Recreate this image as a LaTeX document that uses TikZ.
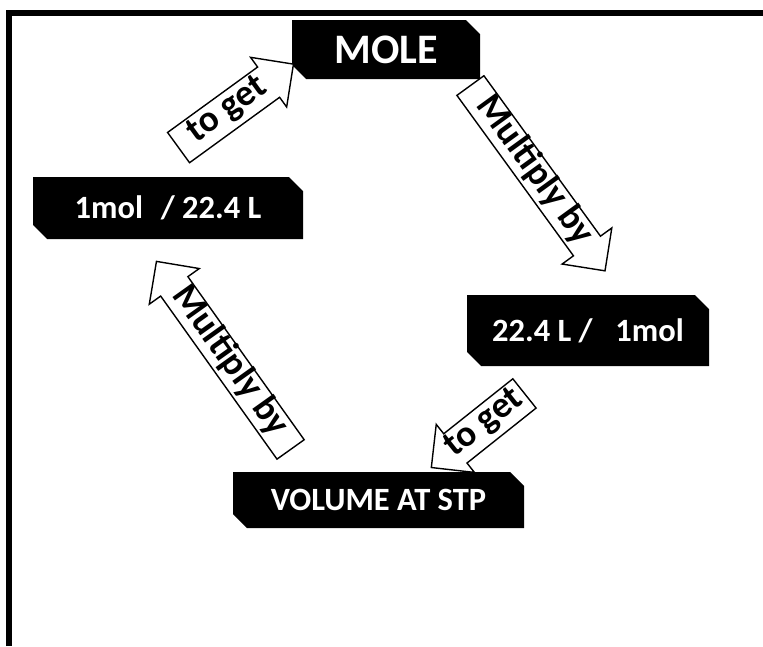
\documentclass[tikz,border=0pt]{standalone}
\usepackage{fontspec}
\setmainfont{Carlito}
\usetikzlibrary{shapes.misc,shapes.arrows,positioning}

\tikzset{
  box/.style={chamfered rectangle, chamfered rectangle corners={north east,south west},
    chamfered rectangle xsep=11pt, chamfered rectangle angle=45, fill=black, text=white,
    inner sep=0pt, font=\bfseries\fontsize{32.5}{34}\selectfont},
  arrowbox/.style={single arrow, draw=black, fill=white, line width=1.4pt, anchor=tail,
    single arrow head indent=0pt, minimum width=0pt, inner xsep=2pt,
    font=\bfseries\fontsize{37}{39}\selectfont},
  getarrow/.style={arrowbox, text height=24pt, text depth=10pt, inner ysep=1pt, single arrow head extend=12pt},
  multarrow/.style={arrowbox, text height=23pt, text depth=8pt, inner ysep=0.5pt, single arrow head extend=14pt}
}

\begin{document}
\begin{tikzpicture}[x=1pt, y=-1pt]
\useasboundingbox (0,0) rectangle (763,646);

  % frame
\draw[line width=6pt] (9,646) -- (9,13) -- (763,13);

  % the four boxes
\node[box, minimum width=188pt, minimum height=59pt, font=\bfseries\fontsize{42}{44}\selectfont] (mole) at (386,49.5) {MOLE}; \node[box, minimum width=270pt, minimum height=62pt] (perL) at (168,208) {1mol\hspace{0.55em}/ 22.4 L}; \node[box, minimum width=242pt, minimum height=71pt] (perMol) at (588,330.5) {22.4 L /\hspace{0.7em}1mol}; \node[box, minimum width=291pt, minimum height=56pt] (vol) at (378.5,500) {VOLUME AT STP};

  % block arrows between the boxes
\node[getarrow, rotate=36, minimum height=142pt] (get1) at (178,148) {to get}; \node[multarrow, rotate=-54, minimum height=229pt] (mult1) at (470,85) {Multiply by}; \node[getarrow, rotate=38.5, shape border rotate=180, minimum height=119pt] (get2) at (525,393) {to get}; \node[multarrow, rotate=-54.5, shape border rotate=180, minimum height=231pt] (mult2) at (291,450) {Multiply by};

\end{tikzpicture}
\end{document}
